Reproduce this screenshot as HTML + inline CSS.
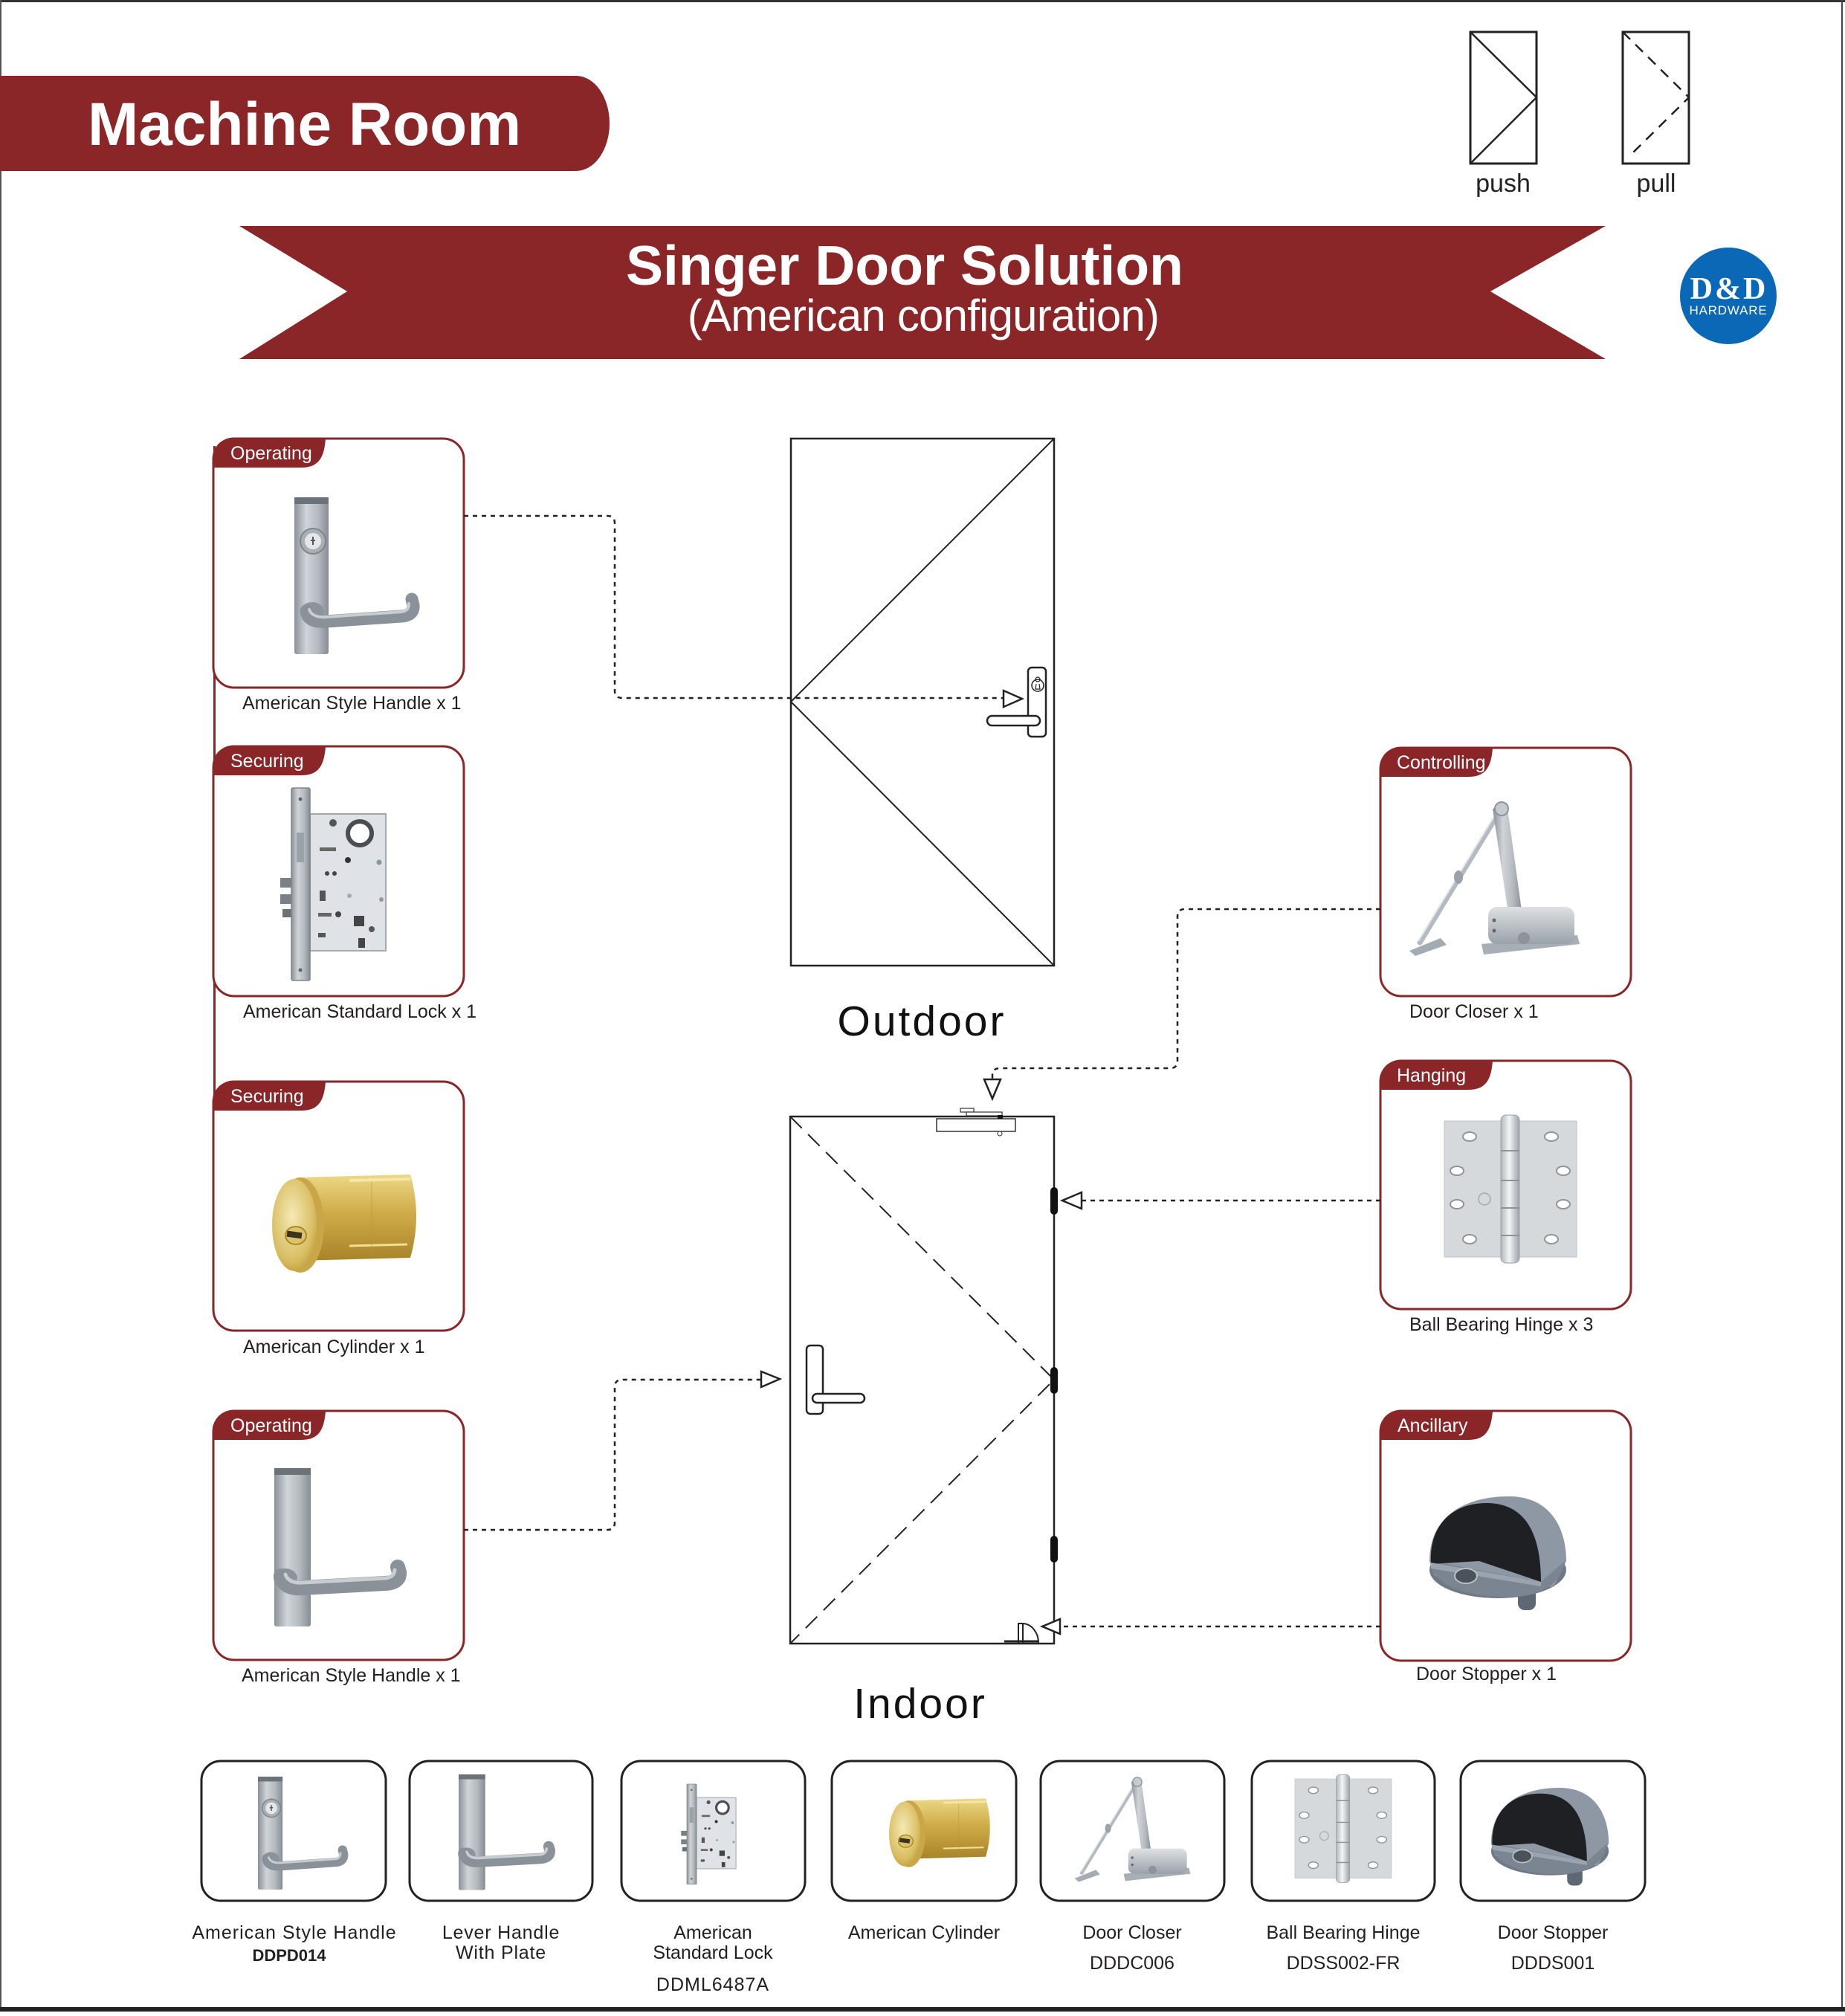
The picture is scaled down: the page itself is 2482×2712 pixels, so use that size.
<!DOCTYPE html>
<html>
<head>
<meta charset="utf-8">
<style>
html,body{margin:0;padding:0;background:#fff;}
svg{display:block;}
text{font-family:"Liberation Sans",Arial,sans-serif;}
</style>
</head>
<body>
<svg xmlns="http://www.w3.org/2000/svg" width="2482" height="2712" viewBox="0 0 2482 2712">
<defs>
  <linearGradient id="gPlate" x1="0" y1="0" x2="1" y2="0">
    <stop offset="0" stop-color="#8a9198"/>
    <stop offset="0.35" stop-color="#d0d4d8"/>
    <stop offset="0.7" stop-color="#b3b9be"/>
    <stop offset="1" stop-color="#858c93"/>
  </linearGradient>
  <linearGradient id="gGoldV" x1="0" y1="0" x2="0" y2="1">
    <stop offset="0" stop-color="#ecd886"/>
    <stop offset="0.45" stop-color="#cfab48"/>
    <stop offset="1" stop-color="#a8842a"/>
  </linearGradient>
  <radialGradient id="gGoldFace" cx="0.45" cy="0.4" r="0.7">
    <stop offset="0" stop-color="#f4eab4"/>
    <stop offset="0.7" stop-color="#d9bd62"/>
    <stop offset="1" stop-color="#b8952f"/>
  </radialGradient>
  <linearGradient id="gKnuckle" x1="0" y1="0" x2="1" y2="0">
    <stop offset="0" stop-color="#b0b6bb"/>
    <stop offset="0.45" stop-color="#f3f5f6"/>
    <stop offset="1" stop-color="#9ca2a7"/>
  </linearGradient>
  <linearGradient id="gCloser" x1="0" y1="0" x2="0" y2="1">
    <stop offset="0" stop-color="#dde1e4"/>
    <stop offset="1" stop-color="#9aa1a8"/>
  </linearGradient>

  <!-- Product A: handle with cylinder (card 1 coords) -->
  <g id="pA">
    <rect x="396" y="669" width="46" height="211" rx="3" fill="url(#gPlate)"/>
    <rect x="396" y="669" width="46" height="9" fill="#6b7279"/>
    <circle cx="421" cy="728" r="17" fill="#a9afb5" stroke="#7d848b" stroke-width="2"/>
    <circle cx="421" cy="728" r="11" fill="#e4e7ea"/>
    <path d="M421,722 v11 M418,727 h6" stroke="#555" stroke-width="2"/>
    <ellipse cx="420" cy="823" rx="16" ry="13" fill="#8c939a"/>
    <path d="M412,822 Q414,838 438,836 L540,829 Q557,828 556,814 L554,806" fill="none" stroke="#8a9198" stroke-width="17" stroke-linecap="round"/>
    <path d="M416,820 Q420,831 438,830 L540,823 Q550,822 550,812" fill="none" stroke="#c8cdd2" stroke-width="4" stroke-linecap="round"/>
  </g>

  <!-- Product B: lever handle with plate (card 4 coords) -->
  <g id="pB">
    <rect x="369" y="1975" width="49" height="213" rx="3" fill="url(#gPlate)"/>
    <rect x="369" y="1975" width="49" height="9" fill="#6b7279"/>
    <ellipse cx="384" cy="2123" rx="16" ry="13" fill="#8c939a"/>
    <path d="M378,2120 Q382,2138 406,2136 L518,2130 Q538,2129 537,2115 L535,2108" fill="none" stroke="#8a9198" stroke-width="20" stroke-linecap="round"/>
    <path d="M384,2118 Q388,2130 406,2129 L518,2123 Q530,2122 531,2112" fill="none" stroke="#c8cdd2" stroke-width="5" stroke-linecap="round"/>
  </g>

  <!-- Product C: mortise lock (card 2 coords) -->
  <g id="pC">
    <rect x="377" y="1181" width="22" height="13" fill="#7a8086"/>
    <rect x="377" y="1203" width="22" height="13" fill="#7a8086"/>
    <rect x="380" y="1223" width="16" height="11" fill="#6b7177"/>
    <rect x="417" y="1095" width="102" height="184" fill="#dfe3e7" stroke="#a3a9af" stroke-width="2"/>
    <rect x="392" y="1060" width="25" height="259" rx="2" fill="url(#gPlate)" stroke="#7f868c" stroke-width="1.5"/>
    <rect x="399" y="1120" width="10" height="40" fill="#9aa1a7"/>
    <circle cx="404" cy="1075" r="2.5" fill="#666"/>
    <circle cx="404" cy="1305" r="2.5" fill="#666"/>
    <circle cx="484" cy="1121" r="16" fill="#fff" stroke="#4a4e52" stroke-width="6"/>
    <circle cx="448" cy="1107" r="5" fill="#555"/>
    <rect x="430" y="1140" width="22" height="5" fill="#666"/>
    <circle cx="468" cy="1157" r="4" fill="#333"/>
    <circle cx="510" cy="1160" r="3.5" fill="#8894a0"/>
    <circle cx="440" cy="1175" r="3" fill="#444"/>
    <circle cx="450" cy="1175" r="3" fill="#444"/>
    <rect x="430" y="1198" width="8" height="14" fill="#555"/>
    <circle cx="470" cy="1205" r="3" fill="#aaa"/>
    <circle cx="455" cy="1230" r="4" fill="#444"/>
    <rect x="428" y="1228" width="18" height="5" fill="#666"/>
    <rect x="476" y="1232" width="14" height="14" fill="#444"/>
    <circle cx="500" cy="1250" r="4" fill="#555"/>
    <rect x="428" y="1255" width="10" height="6" fill="#555"/>
    <rect x="482" y="1262" width="9" height="13" fill="#444"/>
    <circle cx="513" cy="1210" r="3" fill="#999"/>
  </g>

  <!-- Product D: cylinder (card 3 coords) -->
  <g id="pD">
    <path d="M400,1584 L552,1580 Q568,1636 552,1692 L400,1696 Z" fill="url(#gGoldV)"/>
    <path d="M470,1588 L552,1586" stroke="#f6e7a4" stroke-width="4"/>
    <path d="M470,1676 L548,1674" stroke="#f2df90" stroke-width="3"/>
    <path d="M500,1590 L500,1692" stroke="#b89538" stroke-width="1" opacity="0.6"/>
    <ellipse cx="404" cy="1648" rx="32" ry="64" fill="#c9a648"/>
    <ellipse cx="396" cy="1648" rx="30" ry="62" fill="url(#gGoldFace)"/>
    <ellipse cx="398" cy="1662" rx="14" ry="12" fill="#dcc36a" stroke="#a88a2c" stroke-width="2"/>
    <rect x="386" y="1657" width="20" height="8" fill="#3a3320" transform="rotate(8 396 1661)"/>
  </g>

  <!-- Product E: door closer (card R1 coords) -->
  <g id="pE">
    <line x1="2017" y1="1092" x2="1910" y2="1268" stroke="#b3bac1" stroke-width="7" stroke-linecap="round"/>
    <line x1="2015" y1="1090" x2="1908" y2="1266" stroke="#e2e5e8" stroke-width="2"/>
    <ellipse cx="1962" cy="1180" rx="6" ry="9" fill="#9aa1a8"/>
    <polygon points="1896,1279 1938,1262 1946,1271 1904,1286" fill="#a4abb2"/>
    <polygon points="2008,1088 2027,1080 2048,1232 2030,1236" fill="url(#gPlate)"/>
    <circle cx="2020" cy="1088" r="9" fill="#c6cbd0" stroke="#8d949b" stroke-width="2"/>
    <polygon points="1993,1270 2122,1258 2125,1270 1996,1284" fill="#a7aeb5"/>
    <rect x="2002" y="1220" width="116" height="50" rx="12" fill="url(#gCloser)"/>
    <circle cx="2050" cy="1262" r="8" fill="#8c939a"/>
    <circle cx="2010" cy="1238" r="2.5" fill="#666"/>
    <circle cx="2010" cy="1252" r="2.5" fill="#666"/>
  </g>

  <!-- Product F: hinge (card R2 coords) -->
  <g id="pF">
    <rect x="1943" y="1508" width="178" height="183" fill="#d5d9dc" stroke="#bfc4c8" stroke-width="1"/>
    <ellipse cx="1977" cy="1529" rx="9" ry="6" fill="#fff" stroke="#8f959b" stroke-width="2"/>
    <ellipse cx="1960" cy="1575" rx="9" ry="6" fill="#fff" stroke="#8f959b" stroke-width="2"/>
    <ellipse cx="1960" cy="1620" rx="9" ry="6" fill="#fff" stroke="#8f959b" stroke-width="2"/>
    <ellipse cx="1977" cy="1667" rx="9" ry="6" fill="#fff" stroke="#8f959b" stroke-width="2"/>
    <ellipse cx="2087" cy="1529" rx="9" ry="6" fill="#fff" stroke="#8f959b" stroke-width="2"/>
    <ellipse cx="2103" cy="1575" rx="9" ry="6" fill="#fff" stroke="#8f959b" stroke-width="2"/>
    <ellipse cx="2103" cy="1620" rx="9" ry="6" fill="#fff" stroke="#8f959b" stroke-width="2"/>
    <ellipse cx="2087" cy="1667" rx="9" ry="6" fill="#fff" stroke="#8f959b" stroke-width="2"/>
    <rect x="2019" y="1500" width="25" height="199" rx="7" fill="url(#gKnuckle)" stroke="#9aa0a5" stroke-width="1"/>
    <path d="M2019,1548 h25 M2019,1588 h25 M2019,1625 h25 M2019,1662 h25" stroke="#8d9398" stroke-width="2"/>
    <circle cx="1997" cy="1613" r="8" fill="none" stroke="#a4aaaf" stroke-width="1.5"/>
  </g>

  <!-- Product G: door stopper (card R3 coords) -->
  <g id="pG">
    <rect x="2042" y="2136" width="24" height="30" rx="9" fill="#5e6873"/>
    <ellipse cx="2015" cy="2112" rx="92" ry="38" fill="#6f7a86"/>
    <path d="M1923,2100 C1923,2040 1970,2013 2030,2013 C2085,2013 2107,2055 2107,2100 L2090,2135 L1930,2120 Z" fill="#8d98a4"/>
    <path d="M1925,2100 C1925,2128 1960,2148 2030,2148 C2075,2148 2100,2130 2105,2100 L2073,2128 Z" fill="#7a8591"/>
    <path d="M1925,2104 C1922,2050 1955,2022 2000,2022 C2050,2022 2073,2060 2073,2128 L1990,2100 Z" fill="#1f2023"/>
    <path d="M1925,2102 L2073,2128 L2073,2134 L1925,2110 Z" fill="#99a4b0"/>
    <ellipse cx="1972" cy="2120" rx="15" ry="10" fill="#4b525a" stroke="#b9c0c7" stroke-width="2"/>
  </g>
</defs>

<!-- page border -->
<rect x="0" y="0" width="2482" height="3" fill="#333"/>
<rect x="0" y="0" width="2" height="2706" fill="#555"/>
<rect x="2477" y="0" width="2" height="2706" fill="#444"/>
<rect x="0" y="2700" width="2482" height="6" fill="#222"/>

<!-- Machine Room banner -->
<path d="M0,102 H775 A45,64 0 0 1 775,230 H0 Z" fill="#8a2628"/>
<text x="118" y="195" font-size="82" font-weight="bold" fill="#fff">Machine Room</text>

<!-- push / pull -->
<rect x="1978" y="43" width="89" height="177" fill="none" stroke="#222" stroke-width="3"/>
<polyline points="1978,43 2067,131 1978,220" fill="none" stroke="#222" stroke-width="2.5"/>
<text x="2022" y="258" font-size="34" text-anchor="middle" fill="#222">push</text>
<rect x="2183" y="43" width="89" height="177" fill="none" stroke="#222" stroke-width="3"/>
<polyline points="2183,43 2272,131 2192,210" fill="none" stroke="#222" stroke-width="2.5" stroke-dasharray="14 10"/>
<text x="2228" y="258" font-size="34" text-anchor="middle" fill="#222">pull</text>

<!-- title banner -->
<polygon points="322,304 2160,304 2005,392 2160,483 322,483 467,392" fill="#8a2628"/>
<text x="1217" y="383" font-size="75" font-weight="bold" fill="#fff" text-anchor="middle">Singer Door Solution</text>
<text x="1242" y="445" font-size="60" fill="#fff" text-anchor="middle" letter-spacing="-0.8">(American configuration)</text>

<!-- logo -->
<circle cx="2325" cy="398" r="65" fill="#0a68b6"/>
<text x="2326" y="402" font-size="42" font-weight="bold" fill="#fff" text-anchor="middle" letter-spacing="3" style="font-family:'Liberation Serif',serif">D&amp;D</text>
<text x="2325" y="423" font-size="17" fill="#fff" text-anchor="middle" letter-spacing="0.8">HARDWARE</text>

<!-- left connecting line -->
<line x1="288.5" y1="600" x2="288.5" y2="1480" stroke="#8a2628" stroke-width="3"/>

<!-- Cards -->
<g stroke="#8a2628" stroke-width="3" fill="#fff">
  <rect x="287" y="590" width="337" height="335" rx="28"/>
  <rect x="287" y="1004" width="337" height="336" rx="28"/>
  <rect x="287" y="1455" width="337" height="335" rx="28"/>
  <rect x="287" y="1898" width="337" height="335" rx="28"/>
  <rect x="1857" y="1006" width="337" height="334" rx="28"/>
  <rect x="1857" y="1427" width="337" height="334" rx="28"/>
  <rect x="1857" y="1898" width="337" height="336" rx="28"/>
</g>
<g fill="#8a2628">
  <path d="M287,618 Q287,590 315,590 H438 C436,618 427,629 405,629 H287 Z"/>
  <path d="M287,1032 Q287,1004 315,1004 H438 C436,1032 427,1043 405,1043 H287 Z"/>
  <path d="M287,1483 Q287,1455 315,1455 H438 C436,1483 427,1494 405,1494 H287 Z"/>
  <path d="M287,1926 Q287,1898 315,1898 H438 C436,1926 427,1937 405,1937 H287 Z"/>
  <path d="M1857,1034 Q1857,1006 1885,1006 H2008 C2006,1034 1997,1045 1975,1045 H1857 Z"/>
  <path d="M1857,1455 Q1857,1427 1885,1427 H2008 C2006,1455 1997,1466 1975,1466 H1857 Z"/>
  <path d="M1857,1926 Q1857,1898 1885,1898 H2008 C2006,1926 1997,1937 1975,1937 H1857 Z"/>
</g>
<g fill="#fff" font-size="25">
  <text x="310" y="618">Operating</text>
  <text x="310" y="1032">Securing</text>
  <text x="310" y="1483">Securing</text>
  <text x="310" y="1926">Operating</text>
  <text x="1879" y="1034">Controlling</text>
  <text x="1879" y="1455">Hanging</text>
  <text x="1880" y="1926">Ancillary</text>
</g>

<!-- card products -->
<use href="#pA"/>
<use href="#pC"/>
<use href="#pD"/>
<use href="#pB"/>
<use href="#pE"/>
<use href="#pF"/>
<use href="#pG"/>

<!-- card labels -->
<g fill="#231f20" font-size="25">
  <text x="326" y="954">American Style Handle x 1</text>
  <text x="327" y="1369">American Standard Lock x 1</text>
  <text x="327" y="1820">American Cylinder x 1</text>
  <text x="325" y="2262">American Style Handle x 1</text>
  <text x="1896" y="1369">Door Closer x 1</text>
  <text x="1896" y="1790">Ball Bearing Hinge x 3</text>
  <text x="1905" y="2260">Door Stopper x 1</text>
</g>

<!-- Outdoor door -->
<rect x="1064" y="590" width="354" height="709" fill="none" stroke="#222" stroke-width="2.5"/>
<polyline points="1418,590 1064,944 1418,1299" fill="none" stroke="#222" stroke-width="2"/>
<rect x="1383" y="898" width="24" height="93" rx="5" fill="#fff" stroke="#222" stroke-width="2.5"/>
<circle cx="1396" cy="922" r="8" fill="none" stroke="#222" stroke-width="1.5"/>
<path d="M1396,917 a3,3 0 1 1 0.1,0 M1394,920 l-1,7 h6 l-1,-7" fill="none" stroke="#222" stroke-width="1.2"/>
<rect x="1328" y="963" width="71" height="13" rx="6.5" fill="#fff" stroke="#222" stroke-width="2.5"/>
<text x="1240" y="1393" font-size="57" fill="#111" text-anchor="middle" letter-spacing="3">Outdoor</text>

<!-- Indoor door -->
<rect x="1063" y="1502" width="355" height="709" fill="none" stroke="#222" stroke-width="2.5"/>
<polyline points="1063,1502 1418,1856 1063,2211" fill="none" stroke="#222" stroke-width="2" stroke-dasharray="22 12"/>
<rect x="1260" y="1505" width="106" height="17" fill="#fff" stroke="#333" stroke-width="1.5"/>
<rect x="1292" y="1491" width="18" height="5" fill="#fff" stroke="#333" stroke-width="1.2"/>
<rect x="1300" y="1496" width="48" height="5" fill="#fff" stroke="#333" stroke-width="1.2"/>
<rect x="1342" y="1500" width="7" height="5" fill="#111"/>
<circle cx="1345" cy="1525" r="3" fill="#fff" stroke="#333" stroke-width="1"/>
<rect x="1413" y="1597" width="10" height="37" rx="5" fill="#111"/>
<rect x="1413" y="1839" width="10" height="36" rx="5" fill="#111"/>
<rect x="1413" y="2066" width="10" height="36" rx="5" fill="#111"/>
<rect x="1085" y="1810" width="22" height="92" rx="5" fill="#fff" stroke="#222" stroke-width="2.5"/>
<rect x="1093" y="1875" width="70" height="12" rx="6" fill="#fff" stroke="#222" stroke-width="2.5"/>
<path d="M1370,2210 V2184 H1376 A22,26 0 0 1 1397,2210" fill="none" stroke="#222" stroke-width="2"/>
<line x1="1376" y1="2184" x2="1376" y2="2210" stroke="#222" stroke-width="2"/>
<line x1="1351" y1="2208" x2="1397" y2="2208" stroke="#222" stroke-width="3"/>
<text x="1238" y="2311" font-size="57" fill="#111" text-anchor="middle" letter-spacing="3">Indoor</text>

<!-- connectors -->
<g fill="none" stroke="#222" stroke-width="2.5" stroke-dasharray="6 6">
  <path d="M624,694 H817 Q827,694 827,704 V929 Q827,939 837,939 H1350"/>
  <path d="M1857,1223 H1594 Q1584,1223 1584,1233 V1427 Q1584,1437 1574,1437 H1345 Q1335,1437 1335,1447 V1452"/>
  <path d="M1857,1615 H1455"/>
  <path d="M624,2058 H817 Q827,2058 827,2048 V1866 Q827,1856 837,1856 H1024"/>
  <path d="M1857,2188 H1426"/>
</g>
<g fill="#fff" stroke="#222" stroke-width="2.5" stroke-linejoin="miter">
  <polygon points="1350,929 1375,940 1350,951"/>
  <polygon points="1324,1452 1346,1452 1335,1478"/>
  <polygon points="1455,1604 1429,1615 1455,1626"/>
  <polygon points="1024,1845 1049,1855 1024,1866"/>
  <polygon points="1426,2178 1402,2188 1426,2198"/>
</g>

<!-- bottom row boxes -->
<g fill="#fff" stroke="#222" stroke-width="3">
  <rect x="271" y="2369" width="248" height="188" rx="26"/>
  <rect x="551" y="2369" width="246" height="188" rx="26"/>
  <rect x="836" y="2369" width="247" height="188" rx="26"/>
  <rect x="1119" y="2369" width="248" height="188" rx="26"/>
  <rect x="1400" y="2369" width="247" height="188" rx="26"/>
  <rect x="1684" y="2369" width="246" height="188" rx="26"/>
  <rect x="1965" y="2369" width="248" height="188" rx="26"/>
</g>
<use href="#pA" transform="translate(61.9 1908.3) scale(0.72)"/>
<use href="#pB" transform="translate(347.6 945.2) scale(0.73)"/>
<use href="#pC" transform="translate(720.2 1848.8) scale(0.52)"/>
<use href="#pD" transform="translate(939.8 1313.4) scale(0.7)"/>
<use href="#pE" transform="translate(156.4 1657.2) scale(0.68)"/>
<use href="#pF" transform="translate(323.6 1292.2) scale(0.73)"/>
<use href="#pG" transform="translate(352.1 673.8) scale(0.86)"/>

<g fill="#231f20" font-size="25" text-anchor="middle">
  <text x="396" y="2608" letter-spacing="1">American Style Handle</text>
  <text x="389" y="2638" font-size="22" font-weight="bold">DDPD014</text>
  <text x="674" y="2608" letter-spacing="0.8">Lever Handle</text>
  <text x="674" y="2635" letter-spacing="0.8">With Plate</text>
  <text x="959" y="2608">American</text>
  <text x="959" y="2635">Standard Lock</text>
  <text x="959" y="2678" letter-spacing="1">DDML6487A</text>
  <text x="1243" y="2608">American Cylinder</text>
  <text x="1523" y="2608">Door Closer</text>
  <text x="1523" y="2649">DDDC006</text>
  <text x="1807" y="2608">Ball Bearing Hinge</text>
  <text x="1807" y="2649">DDSS002-FR</text>
  <text x="2089" y="2608">Door Stopper</text>
  <text x="2089" y="2649">DDDS001</text>
</g>
</svg>
</body>
</html>
